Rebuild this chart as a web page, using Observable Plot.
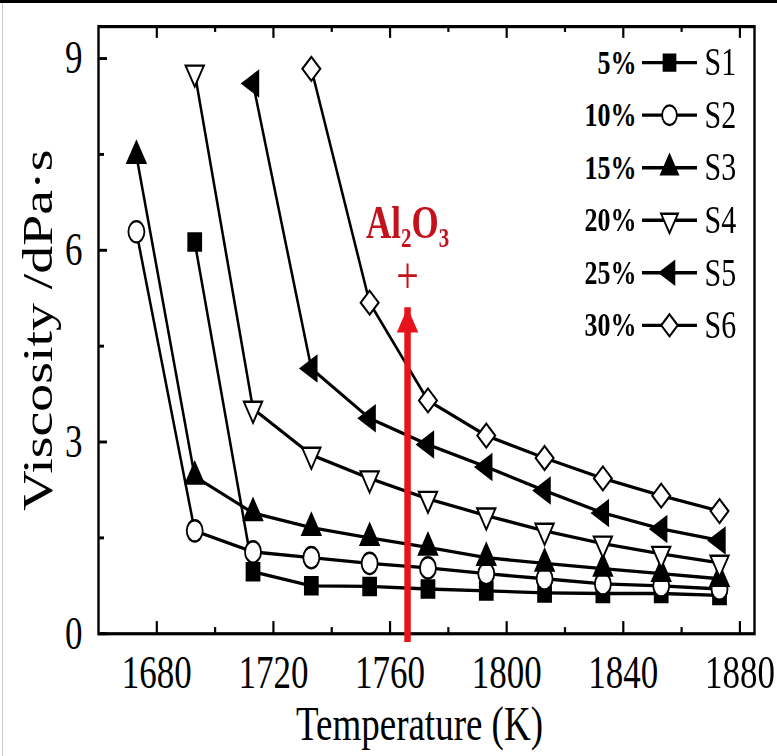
<!DOCTYPE html>
<html><head><meta charset="utf-8">
<script src="https://cdn.jsdelivr.net/npm/d3@7"></script>
<script src="https://cdn.jsdelivr.net/npm/@observablehq/plot@0.6"></script>
<style>
html,body{margin:0;padding:0;background:#fff;width:777px;height:756px;overflow:hidden;}
#chart{position:absolute;left:0;top:0;transform-origin:0 0;transform:scaleY(1.33);}
#topbar{position:absolute;left:0;top:0;width:777px;height:3px;background:#000;}
#leftbar{position:absolute;left:2px;top:3px;width:1px;height:753px;background:#c8c8c8;}
</style></head><body>
<div id="chart"></div><div id="topbar"></div><div id="leftbar"></div>
<script>
// ---- data ----
const temperatures = [1673, 1693, 1713, 1733, 1753, 1773, 1793, 1813, 1833, 1853, 1873];
const seriesNames = ["S1", "S2", "S3", "S4", "S5", "S6"];
const aluminaLabels = ["5%", "10%", "15%", "20%", "25%", "30%"];
const S1 = [null, 6.13, 0.97, 0.75, 0.74, 0.70, 0.67, 0.64, 0.63, 0.63, 0.60];
const S2 = [6.29, 1.61, 1.28, 1.19, 1.10, 1.03, 0.94, 0.86, 0.78, 0.75, 0.70];
const S3 = [7.48, 2.46, 1.89, 1.66, 1.50, 1.35, 1.19, 1.10, 1.02, 0.94, 0.86];
const S4 = [null, 8.78, 3.52, 2.80, 2.43, 2.11, 1.85, 1.61, 1.41, 1.25, 1.11];
const S5 = [null, null, 8.61, 4.15, 3.37, 2.96, 2.61, 2.24, 1.89, 1.64, 1.46];
const S6 = [null, null, null, 8.84, 5.18, 3.65, 3.10, 2.75, 2.43, 2.16, 1.92];
const xTickLabels = [1680, 1720, 1760, 1800, 1840, 1880];
const xMinorTicks = [1700, 1740, 1780, 1820, 1860];
const yTickLabels = [0, 3, 6, 9];
const yMinorTicks = [1.5, 4.5, 7.5];
const arrowTemp = [1766];
const arrowFrom = [0.11];
const arrowTo = [5.10];
const annotationText = ["Al₂O₃", "+"];
const annotationY = [6.42, 5.6];
const xTitle = "Temperature (K)";
const yTitle = "Viscosity /dPa·s";

// ---- layout / style ----
const W = 777, H = 568;
const mL = 98, mR = 23, mT = 19.5, mB = 92;
const frameW = W - mL - mR, frameH = H - mT - mB;
const xDomain = [1660, 1885], yDomain = [0, 9.5];
const serif = "'Liberation Serif', 'Times New Roman', Times, serif";
const RED = "#e8141b", RED_TEXT = "#c3121c";

const triDown = {draw(ctx, size) {
  const a = Math.sqrt(size / (Math.sqrt(3) * 3));
  ctx.moveTo(0, 2 * a); ctx.lineTo(Math.sqrt(3) * a, -a); ctx.lineTo(-Math.sqrt(3) * a, -a); ctx.closePath();
}};
const triLeft = {draw(ctx, size) {
  const a = Math.sqrt(size / (Math.sqrt(3) * 3));
  ctx.moveTo(-2 * a, 0); ctx.lineTo(a, -Math.sqrt(3) * a); ctx.lineTo(a, Math.sqrt(3) * a); ctx.closePath();
}};
const symbols = ["square", "circle", "triangle", triDown, triLeft, "diamond2"];
const fills = ["black", "white", "black", "white", "black", "white"];
const radii = [7.3, 8, 6.8, 6.8, 6.8, 8.1];

const allSeries = [S1, S2, S3, S4, S5, S6];
const rows = [];
allSeries.forEach((vals, i) => vals.forEach((v, j) => {
  if (v != null) rows.push({series: seriesNames[i], idx: i, t: temperatures[j], v});
}));

const xs = Plot.scale({x: {domain: xDomain, range: [mL, W - mR]}});
const ys = Plot.scale({y: {domain: yDomain, range: [H - mB, mT]}});
const legend = seriesNames.map((name, i) => ({
  name, pct: aluminaLabels[i], idx: i,
  y: ys.invert(46.6 + 39.5 * i),
  x1: xs.invert(642), x2: xs.invert(697), xm: xs.invert(669),
  xp: xs.invert(636), xn: xs.invert(704)
}));

const arrow = arrowTemp.map((t, i) => ({t, y1: arrowFrom[i], y2: arrowTo[i]}));
const notes = annotationText.map((s, i) => ({t: arrowTemp[0], y: annotationY[i], s}));

const marks = [
  Plot.frame({stroke: "black", strokeWidth: 2.4}),
  Plot.ruleX(xTickLabels, {insetTop: frameH - 9, stroke: "black", strokeWidth: 2.2}),
  Plot.ruleX(xTickLabels, {insetBottom: frameH - 9, stroke: "black", strokeWidth: 2.2}),
  Plot.ruleX(xMinorTicks, {insetTop: frameH - 4.5, stroke: "black", strokeWidth: 2.2}),
  Plot.ruleX(xMinorTicks, {insetBottom: frameH - 4.5, stroke: "black", strokeWidth: 2.2}),
  Plot.ruleY(yTickLabels, {insetRight: frameW - 9, stroke: "black", strokeWidth: 2.2}),
  Plot.ruleY(yMinorTicks, {insetRight: frameW - 6, stroke: "black", strokeWidth: 2.2}),
  Plot.axisX(xTickLabels, {tickSize: 0, tickPadding: 16, fontSize: 35, label: null, tickFormat: d => String(d)}),
  Plot.axisY(yTickLabels, {tickSize: 0, tickPadding: 16, fontSize: 35, label: null}),
  Plot.text([xTitle], {frameAnchor: "bottom", textAnchor: "middle", lineAnchor: "middle", dy: 68, dx: -7, fontSize: 37}),
  Plot.text([yTitle], {frameAnchor: "left", textAnchor: "middle", lineAnchor: "middle", rotate: -90, dx: -60, fontSize: 42}),
  Plot.line(rows, {x: "t", y: "v", z: "series", stroke: "black", strokeWidth: 2.5}),
  ...seriesNames.map((name, i) => Plot.dot(rows.filter(d => d.idx === i), {
    x: "t", y: "v", symbol: symbols[i], r: radii[i], fill: fills[i], stroke: "black", strokeWidth: 1.8
  })),
  // legend
  Plot.ruleY(legend, {y: "y", x1: "x1", x2: "x2", stroke: "black", strokeWidth: 2.5}),
  ...seriesNames.map((name, i) => Plot.dot(legend.filter(d => d.idx === i), {
    x: "xm", y: "y", symbol: symbols[i], r: radii[i] * 0.92, fill: fills[i], stroke: "black", strokeWidth: 1.8
  })),
  Plot.text(legend, {x: "xp", y: "y", text: "pct", textAnchor: "end", fontSize: 26, fontWeight: "bold"}),
  Plot.text(legend, {x: "xn", y: "y", text: "name", textAnchor: "start", fontSize: 30}),
  // arrow + annotation
  Plot.ruleX(arrow, {x: "t", y1: "y1", y2: "y2", stroke: RED, strokeWidth: 6.5, insetTop: 12}),
  Plot.dot(arrow, {x: "t", y: "y2", symbol: "triangle", r: 8, fill: RED, stroke: "none", dy: 12.4}),
  Plot.text(notes.slice(0, 1), {x: "t", y: "y", text: "s", fill: RED_TEXT, fontSize: 35, fontWeight: "bold"}),
  Plot.text(notes.slice(1), {x: "t", y: "y", text: "s", fill: RED_TEXT, fontSize: 40})
];

const chart = Plot.plot({
  width: W, height: H,
  marginLeft: mL, marginRight: mR, marginTop: mT, marginBottom: mB,
  x: {domain: xDomain, label: null},
  y: {domain: yDomain, label: null},
  style: {fontFamily: serif, background: "white", color: "black", overflow: "visible"},
  marks
});
document.getElementById("chart").appendChild(chart);
</script>
</body></html>
